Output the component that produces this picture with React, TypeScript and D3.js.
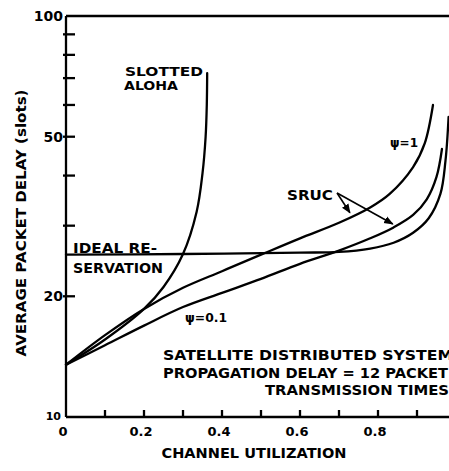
import React, { useEffect } from "react";
import * as d3 from "d3";

const W = 449;
const H = 471;

// channel utilization vs. average packet delay (slots)
const alohaU = [0, 0.1, 0.2, 0.25, 0.3, 0.335, 0.35, 0.358, 0.361, 0.362];
const alohaD = [13.5, 15.6, 18.6, 21.1, 25.5, 32.5, 40.5, 50, 60, 72];

const sruc1U = [0, 0.1, 0.2, 0.3, 0.4, 0.5, 0.6, 0.7, 0.78, 0.83, 0.89, 0.92, 0.941];
const sruc1D = [13.5, 16.0, 18.6, 21.0, 23.1, 25.4, 27.9, 30.5, 33.3, 36.0, 42, 48.2, 60];

const sruc01U = [0, 0.1, 0.2, 0.3, 0.4, 0.5, 0.6, 0.7, 0.78, 0.84, 0.89, 0.925, 0.95, 0.964];
const sruc01D = [13.5, 15.1, 16.9, 18.8, 20.4, 22.1, 24.1, 26.0, 27.9, 29.7, 31.9, 34.9, 39.7, 46.6];

const idealU = [0, 0.3, 0.6, 0.7, 0.78, 0.84, 0.89, 0.93, 0.96, 0.973, 0.981];
const idealD = [25.4, 25.5, 25.7, 25.8, 26.3, 27.2, 28.8, 31.3, 36, 43.5, 56];

const xTicks = [0.1, 0.2, 0.3, 0.4, 0.5, 0.6, 0.7, 0.8, 0.9];
const xTickLabels = [0, 0.2, 0.4, 0.6, 0.8];
const yTicks = [20, 30, 40, 50, 60, 70, 80, 90];
const yTickLabels = [100, 50, 20];

// SRUC pointer: label origin and the two arrow tips (utilization, delay)
const srucFrom = [0.695, 36.2];
const srucTips = [
  [0.728, 32.3],
  [0.838, 30.3],
];

const font = "'DejaVu Sans', sans-serif";

export default function App() {
  useEffect(() => {
    document.body.style.margin = "0";
  }, []);

  const x = d3.scaleLinear().domain([0, 1]).range([66, 456]);
  const y = d3.scaleLog().domain([10, 100]).range([417, 16]);

  const line = d3
    .line<[number, number]>()
    .x((d) => x(d[0]))
    .y((d) => y(d[1]))
    .curve(d3.curveCatmullRom.alpha(0.5));

  const series = [
    d3.zip(alohaU, alohaD),
    d3.zip(sruc1U, sruc1D),
    d3.zip(sruc01U, sruc01D),
    d3.zip(idealU, idealD),
  ] as [number, number][][];

  const txt = { fontFamily: font, fontWeight: "bold" as const, fill: "#000" };

  return (
    <svg width={W} height={H} style={{ display: "block", background: "#fff" }}>
      <defs>
        <marker id="head" viewBox="0 0 10 10" refX="9" refY="5" markerWidth="6" markerHeight="6" orient="auto">
          <path d="M0,1 L10,5 L0,9 z" fill="#000" />
        </marker>
      </defs>

      {/* frame: left axis, bottom axis, top line */}
      <g stroke="#000" strokeWidth={2.3} fill="none">
        <line x1={x(0)} x2={x(0)} y1={y(100)} y2={y(10)} />
        <line x1={x(0)} x2={W} y1={y(10)} y2={y(10)} />
        <line x1={x(0)} x2={W} y1={y(100)} y2={y(100)} />
        {yTicks.map((t) => (
          <line key={t} x1={x(0) - 3} x2={x(0) + 9} y1={y(t)} y2={y(t)} />
        ))}
        {xTicks.map((t) => (
          <line key={t} x1={x(t)} x2={x(t)} y1={y(10)} y2={y(10) - 7} />
        ))}
      </g>

      {yTickLabels.map((t) => (
        <text key={t} x={x(0) - 3} y={y(t) + 5} textAnchor="end" fontSize={14} {...txt}>
          {t}
        </text>
      ))}
      <text x={x(0) - 5} y={y(10) + 3} textAnchor="end" fontSize={11} {...txt}>
        10
      </text>
      {xTickLabels.map((t) => (
        <text key={t} x={x(t) - 3} y={436} textAnchor="middle" fontSize={13} {...txt}>
          {t === 0 ? "0" : d3.format(".1f")(t)}
        </text>
      ))}

      <text x={254} y={458} textAnchor="middle" fontSize={14} textLength={185} lengthAdjust="spacingAndGlyphs" {...txt}>
        CHANNEL UTILIZATION
      </text>
      <text
        transform="translate(26,223) rotate(-90)"
        textAnchor="middle"
        fontSize={14}
        textLength={267}
        lengthAdjust="spacingAndGlyphs"
        {...txt}
      >
        AVERAGE PACKET DELAY (slots)
      </text>

      {/* curves */}
      <g stroke="#000" strokeWidth={2.3} fill="none" strokeLinecap="round">
        {series.map((s, i) => (
          <path key={i} d={line(s) ?? ""} />
        ))}
      </g>

      {/* SRUC arrows */}
      <g stroke="#000" strokeWidth={1.6}>
        {srucTips.map((t, i) => (
          <line key={i} x1={x(srucFrom[0])} y1={y(srucFrom[1])} x2={x(t[0])} y2={y(t[1])} markerEnd="url(#head)" />
        ))}
      </g>

      {/* annotations */}
      <text x={125} y={76} fontSize={12.5} textLength={78} lengthAdjust="spacingAndGlyphs" {...txt}>SLOTTED</text>
      <text x={124} y={90} fontSize={12.5} textLength={54} lengthAdjust="spacingAndGlyphs" {...txt}>ALOHA</text>
      <text x={73} y={253} fontSize={13.5} textLength={84} lengthAdjust="spacingAndGlyphs" {...txt}>IDEAL RE-</text>
      <text x={73} y={273} fontSize={13.5} textLength={90} lengthAdjust="spacingAndGlyphs" {...txt}>SERVATION</text>
      <text x={185} y={322} fontSize={13} textLength={42} lengthAdjust="spacingAndGlyphs" {...txt}>ψ=0.1</text>
      <text x={390} y={147} fontSize={13} textLength={28} lengthAdjust="spacingAndGlyphs" {...txt}>ψ=1</text>
      <text x={287} y={200} fontSize={14} textLength={46} lengthAdjust="spacingAndGlyphs" {...txt}>SRUC</text>
      <text x={163} y={360} fontSize={14} textLength={290} lengthAdjust="spacingAndGlyphs" {...txt}>SATELLITE DISTRIBUTED SYSTEM</text>
      <text x={163} y={378} fontSize={14} textLength={285} lengthAdjust="spacingAndGlyphs" {...txt}>PROPAGATION DELAY = 12 PACKET</text>
      <text x={265} y={395} fontSize={14} textLength={184} lengthAdjust="spacingAndGlyphs" {...txt}>TRANSMISSION TIMES</text>
    </svg>
  );
}
